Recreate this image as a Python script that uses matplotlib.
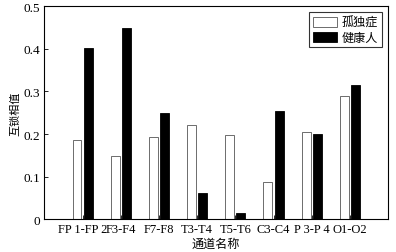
import matplotlib.pyplot as plt
import numpy as np

channels = ["FP 1-FP 2", "F3-F4", "F7-F8", "T3-T4", "T5-T6", "C3-C4", "P 3-P 4", "O1-O2"]
autism = [0.186, 0.148, 0.194, 0.221, 0.197, 0.087, 0.204, 0.289]
healthy = [0.402, 0.448, 0.250, 0.062, 0.014, 0.253, 0.200, 0.315]

serif = ["Liberation Serif", "DejaVu Serif"]
cjk = ["Noto Sans CJK SC", "DejaVu Sans"]

fig = plt.figure(figsize=(3.96, 2.53), dpi=100)
ax = fig.add_axes([0.112, 0.130, 0.868, 0.841])

x = np.arange(1, len(channels) + 1)
w = 0.235
ax.bar(x - 0.145, autism, w, color="white", edgecolor="#555555", linewidth=0.6, label="孤独症")
ax.bar(x + 0.145, healthy, w, color="black", edgecolor="black", linewidth=0.6, label="健康人")

ax.set_xlim(0, 9)
ax.set_ylim(0, 0.5)
ax.set_xticks(x)
ax.set_xticklabels(channels, family=serif, fontsize=9)
ax.set_yticks([0, 0.1, 0.2, 0.3, 0.4, 0.5])
ax.set_yticklabels(["0", "0.1", "0.2", "0.3", "0.4", "0.5"], family=serif, fontsize=9.5)
ax.tick_params(direction="in", length=3, width=0.6, pad=3)
for s in ax.spines.values():
    s.set_linewidth(0.8)

ax.set_xlabel("通道名称", family=cjk, fontsize=8.7, labelpad=1)
ax.set_ylabel("互锁相值", family=cjk, fontsize=8, labelpad=2)

leg = ax.legend(loc="upper right", prop={"family": cjk, "size": 8.7}, frameon=True,
                fancybox=False, edgecolor="black", borderpad=0.3, handlelength=2.0,
                handleheight=0.9, handletextpad=0.4, labelspacing=0.15, borderaxespad=0.5)
leg.get_frame().set_linewidth(0.8)

fig.savefig("out.png", dpi=100)
